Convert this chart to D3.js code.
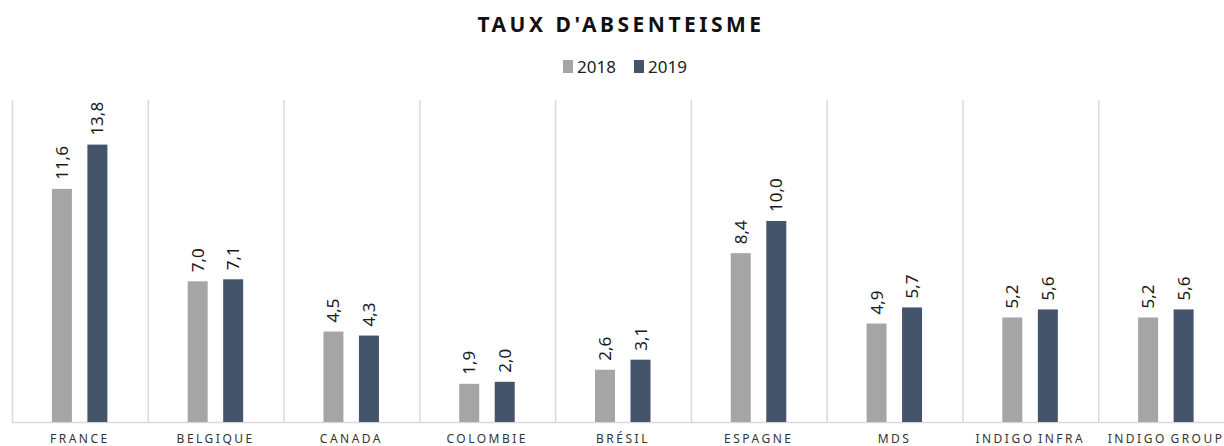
<!DOCTYPE html>
<html>
<head>
<meta charset="utf-8">
<script src="https://cdn.jsdelivr.net/npm/d3@7"></script>
<style>
  body { margin: 0; background: #fff; }
  text { font-family: "Noto Sans", "DejaVu Sans", sans-serif; }
</style>
</head>
<body>
<script>
var categories = ["FRANCE", "BELGIQUE", "CANADA", "COLOMBIE", "BRÉSIL", "ESPAGNE", "MDS", "INDIGO INFRA", "INDIGO GROUP"];
var series = ["2018", "2019"];
var values2018 = [11.6, 7.0, 4.5, 1.9, 2.6, 8.4, 4.9, 5.2, 5.2];
var values2019 = [13.8, 7.1, 4.3, 2.0, 3.1, 10.0, 5.7, 5.6, 5.6];
var colors = ["#a5a5a5", "#44546a"];

var width = 1224, height = 446;
var baseline = 422, plotTop = 100;

var svg = d3.select("body").append("svg")
    .attr("width", width)
    .attr("height", height);

// title
svg.append("text")
    .attr("x", 621)
    .attr("y", 32)
    .attr("text-anchor", "middle")
    .style("font-size", "21px")
    .style("font-weight", "bold")
    .style("letter-spacing", "3.5px")
    .style("fill", "#111")
    .text("TAUX D'ABSENTEISME");

// legend
var legend = svg.append("g");
var legendX = [563, 634];
series.forEach(function(s, i) {
  legend.append("rect")
      .attr("x", legendX[i])
      .attr("y", 60)
      .attr("width", 10)
      .attr("height", 13)
      .style("fill", colors[i]);
  legend.append("text")
      .attr("x", legendX[i] + 14)
      .attr("y", 73)
      .style("font-size", "17px")
      .style("fill", "#222")
      .text(s);
});

// scales
var x = d3.scaleBand()
    .domain(categories)
    .range([12, 1234])
    .padding(0);

var y = d3.scaleLinear()
    .domain([0, 16])
    .range([baseline, baseline - 16 * 20.1]);

// separators
svg.selectAll(".sep")
    .data(categories)
    .enter().append("line")
      .attr("x1", function(d) { return x(d) + 0.5; })
      .attr("x2", function(d) { return x(d) + 0.5; })
      .attr("y1", plotTop)
      .attr("y2", baseline)
      .style("stroke", "#d9d9d9")
      .style("stroke-width", 1.5);

svg.append("line")
    .attr("x1", 12).attr("x2", 1234)
    .attr("y1", baseline + 0.5).attr("y2", baseline + 0.5)
    .style("stroke", "#d9d9d9")
    .style("stroke-width", 1.5);

var barW = 20;
var offsets = [-18, 17.5];
var data = [values2018, values2019];

data.forEach(function(vals, s) {
  var cx = function(d, i) { return x(categories[i]) + x.bandwidth() / 2 + offsets[s]; };

  svg.selectAll(".bar" + s)
      .data(vals)
      .enter().append("rect")
        .attr("x", function(d, i) { return cx(d, i) - barW / 2; })
        .attr("y", function(d) { return y(d); })
        .attr("width", barW)
        .attr("height", function(d) { return baseline - y(d); })
        .style("fill", colors[s]);

  svg.selectAll(".lab" + s)
      .data(vals)
      .enter().append("text")
        .attr("transform", function(d, i) {
          return "translate(" + (cx(d, i) + 6) + "," + (y(d) - 9) + ") rotate(-90)";
        })
        .attr("text-anchor", "start")
        .style("font-size", "17px")
        .style("fill", "#1a1a1a")
        .text(function(d) { return d.toFixed(1).replace(".", ","); });
});

// category labels
svg.selectAll(".cat")
    .data(categories)
    .enter().append("text")
      .attr("x", function(d) { return x(d) + x.bandwidth() / 2; })
      .attr("y", 443)
      .attr("text-anchor", "middle")
      .style("font-size", "12px")
      .style("letter-spacing", "2.5px")
      .style("word-spacing", "-2px")
      .style("fill", "#333")
      .text(function(d) { return d; });
</script>
</body>
</html>
